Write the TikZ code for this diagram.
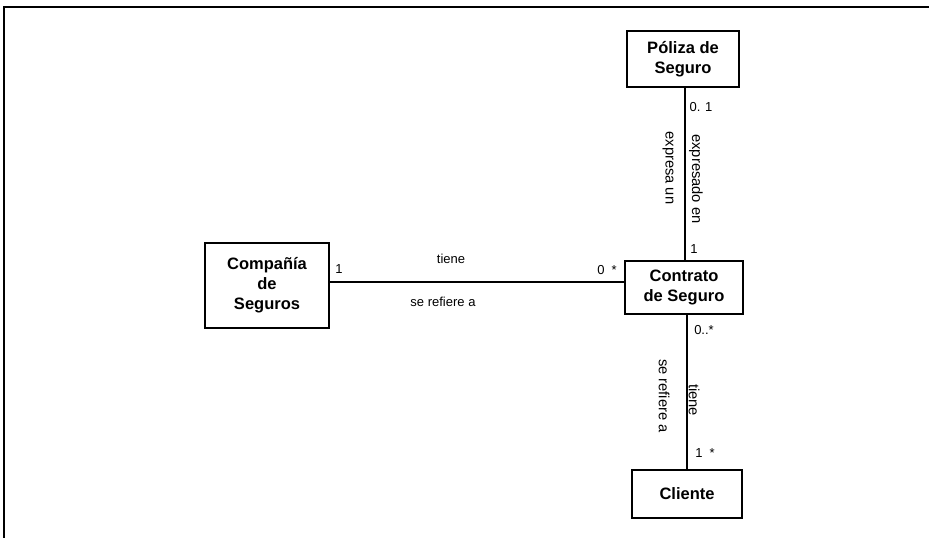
\documentclass[tikz,border=0pt]{standalone}
\usepackage{fontspec}
\setmainfont{Liberation Sans}
\begin{document}
\begin{tikzpicture}[x=1pt,y=-1pt,
  entity/.style={draw,line width=1.6pt,rectangle,align=center,inner sep=0pt,
    font=\fontsize{16.5}{20}\selectfont\bfseries},
  lbl/.style={inner sep=0pt,font=\fontsize{13}{15}\selectfont},
  vlbl/.style={inner sep=0pt,rotate=-90,font=\fontsize{14.7}{17}\selectfont},
  link/.style={line width=1.6pt}]
\useasboundingbox (0,0) rectangle (929,538);
% page frame (top and left edges)
\draw[line width=1.3pt] (929,7) -- (4,7) -- (4,538);

% classes
\node[entity,minimum width=112pt,minimum height=56pt] (poliza) at (683,59) {Póliza de\\Seguro};
\node[entity,minimum width=118pt,minimum height=53pt] (contrato) at (684,287.5) {Contrato\\de Seguro};
\node[entity,minimum width=124pt,minimum height=85pt] (compania) at (267,285.5) {Compañía\\de\\Seguros};
\node[entity,minimum width=110pt,minimum height=48pt] (cliente) at (687,494) {Cliente};

% associations
\coordinate (ce) at ([yshift=3.5pt]compania.east);
\draw[link] (ce) -- (ce -| contrato.west);
\draw[link] ([xshift=2pt]poliza.south) -- ([xshift=2pt]poliza.south |- contrato.north);
\draw[link] (cliente.north |- contrato.south) -- (cliente.north);

% multiplicities and role names
\node[lbl] (m1) at (339,269) {1};
\node[lbl] (m2) at (607,270) {0\ \ *};
\node[lbl] (r1) at (451,259) {tiene};
\node[lbl] (r2) at (443,302) {se refiere a};

\node[lbl] (m3) at (701,107) {0. 1};
\node[lbl] (m4) at (694,249) {1};
\node[vlbl] (r3) at (668,168) {expresa un};
\node[vlbl] (r4) at (696,179) {expresado en};

\node[lbl] (m5) at (704,330) {0..*};
\node[lbl] (m6) at (705,453) {1\ \ *};
\node[vlbl] (r5) at (664,396) {se refiere a};
\node[vlbl] (r6) at (694,400) {tiene};
\end{tikzpicture}
\end{document}
